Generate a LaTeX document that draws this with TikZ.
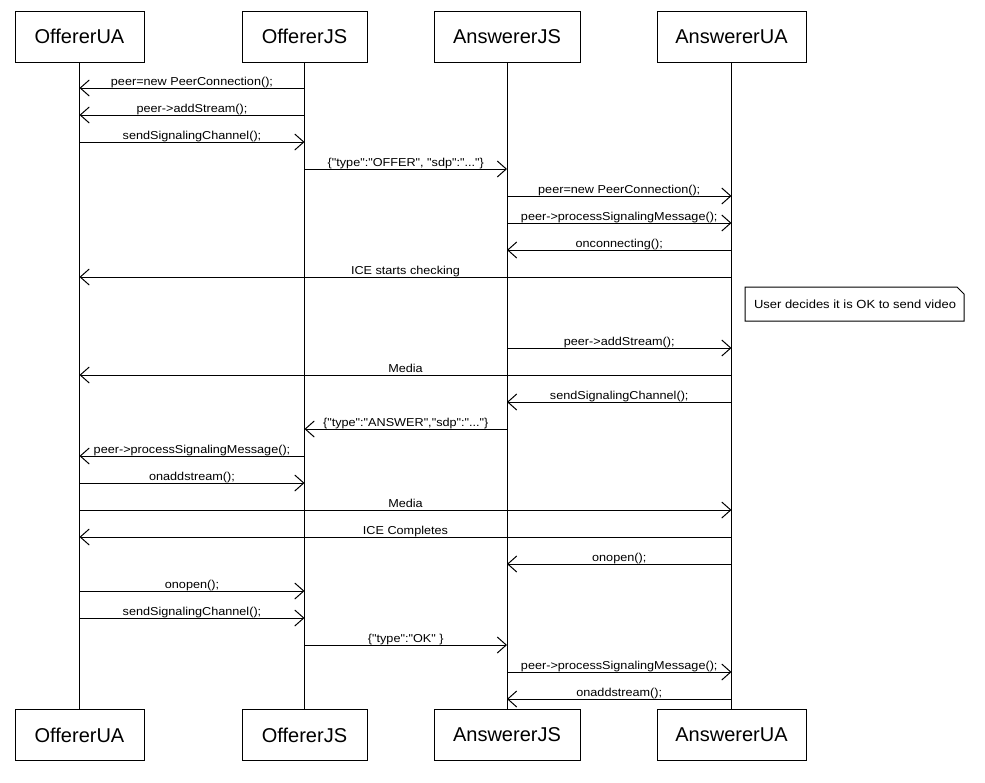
\documentclass[tikz,border=0pt]{standalone}
\usepackage{fontspec}
\setmainfont{Liberation Sans}
\newfontfamily\msgfont[FakeStretch=1.1]{Liberation Sans}
\usetikzlibrary{arrows.meta}
\tikzset{
  actor/.style={draw, line width=1pt, inner sep=0pt, minimum height=51pt, font=\fontsize{20}{24}\selectfont},
  lifeline/.style={line width=1pt},
  msg/.style={line width=1pt, -{Straight Barb[length=9pt, width=16pt, line width=1pt]}},
  lbl/.style={anchor=base, yshift=2.5pt, inner sep=0pt, font=\msgfont\fontsize{11.5}{13}\selectfont},
  notebox/.style={line width=1pt}
}
\newcommand{\msgline}[4]{\draw[msg] (t#1 |- 0,#3) -- (t#2 |- 0,#3) node[lbl, pos=0.5]{#4};}
\begin{document}
\begin{tikzpicture}[x=1pt, y=-1pt]
\useasboundingbox (0,0) rectangle (985,782);
\fill[white] (0,0) rectangle (985,782);
% top actors
\node[actor, minimum width=129pt] (t1) at (79.5,36.5) {OffererUA};
\node[actor, minimum width=125pt] (t2) at (304.5,36.5) {OffererJS};
\node[actor, minimum width=146pt] (t3) at (507,36.5) {AnswererJS};
\node[actor, minimum width=149pt] (t4) at (731.5,36.5) {AnswererUA};
% bottom actors
\node[actor, minimum width=129pt] (b1) at (79.5,735) {OffererUA};
\node[actor, minimum width=125pt] (b2) at (304.5,735) {OffererJS};
\node[actor, minimum width=146pt] (b3) at (507,735) {AnswererJS};
\node[actor, minimum width=149pt] (b4) at (731.5,735) {AnswererUA};
% lifelines
\foreach \i in {1,2,3,4} { \draw[lifeline] (t\i.south) -- (b\i.north); }
% messages
\msgline{2}{1}{88}{peer=new PeerConnection();}
\msgline{2}{1}{115}{peer->addStream();}
\msgline{1}{2}{142}{sendSignalingChannel();}
\msgline{2}{3}{169}{\{"type":"OFFER", "sdp":"..."\}}
\msgline{3}{4}{196}{peer=new PeerConnection();}
\msgline{3}{4}{223}{peer->processSignalingMessage();}
\msgline{4}{3}{250}{onconnecting();}
\msgline{4}{1}{277}{ICE starts checking}
% note
\draw[notebox] (745,287) -- (957,287) -- (964,294) -- (964,321) -- (745,321) -- cycle;
\node[font=\msgfont\fontsize{11.8}{13}\selectfont, inner sep=0pt] (note) at (855,304) {User decides it is OK to send video};
\msgline{3}{4}{348}{peer->addStream();}
\msgline{4}{1}{375}{Media}
\msgline{4}{3}{402}{sendSignalingChannel();}
\msgline{3}{2}{429}{\{"type":"ANSWER","sdp":"..."\}}
\msgline{2}{1}{456}{peer->processSignalingMessage();}
\msgline{1}{2}{483}{onaddstream();}
\msgline{1}{4}{510}{Media}
\msgline{4}{1}{537}{ICE Completes}
\msgline{4}{3}{564}{onopen();}
\msgline{1}{2}{591}{onopen();}
\msgline{1}{2}{618}{sendSignalingChannel();}
\msgline{2}{3}{645}{\{"type":"OK" \}}
\msgline{3}{4}{672}{peer->processSignalingMessage();}
\msgline{4}{3}{699}{onaddstream();}
\end{tikzpicture}
\end{document}
